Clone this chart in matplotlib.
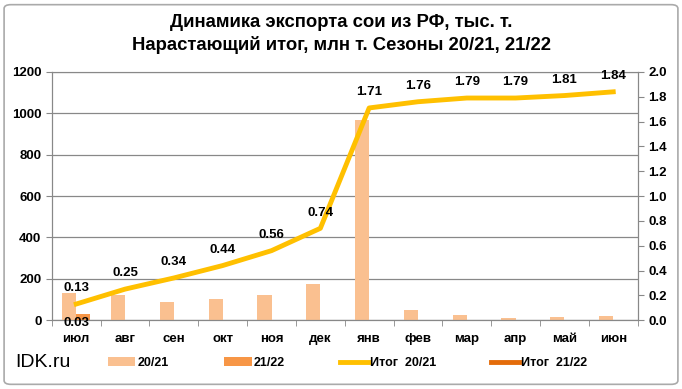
import matplotlib.pyplot as plt
import numpy as np
from matplotlib.patches import FancyBboxPatch

months = ['июл', 'авг', 'сен', 'окт', 'ноя', 'дек', 'янв', 'фев', 'мар', 'апр', 'май', 'июн']
exp_2021 = [130, 120, 88, 100, 120, 175, 970, 50, 25, 10, 15, 20]
exp_2122 = [28, 0, 0, 0, 0, 0, 0, 0, 0, 0, 0, 0]
cum_2021 = [0.13, 0.25, 0.34, 0.44, 0.56, 0.74, 1.71, 1.76, 1.79, 1.79, 1.81, 1.84]
cum_2122 = [0.03] + [np.nan] * 11

plt.rcParams['font.family'] = ['Liberation Sans', 'DejaVu Sans']

fig = plt.figure(figsize=(6.82, 3.89), dpi=100)
ax = fig.add_axes([0.076, 0.177, 0.859, 0.638])
ax2 = ax.twinx()

x = np.arange(len(months))
w = 0.29
b1 = ax.bar(x - w / 2, exp_2021, w, color='#FAC090', label='20/21', zorder=2)
b2 = ax.bar(x + w / 2, exp_2122, w, color='#F79646', label='21/22', zorder=2)

l1, = ax2.plot(x, cum_2021, color='#FFC000', lw=3.5, label='Итог  20/21', zorder=3)
l2, = ax2.plot(x, cum_2122, color='#E46C0A', lw=3.5, label='Итог  21/22', zorder=3)

for xi, v in zip(x, cum_2021):
    ax2.annotate(f'{v:.2f}', (xi, v), xytext=(0, 7), textcoords='offset points',
                 ha='center', va='bottom', fontsize=9.5, fontweight='bold')
ax2.annotate(f'{cum_2122[0]:.2f}', (x[0], cum_2122[0]), xytext=(0, -0.5), textcoords='offset points',
             ha='center', va='top', fontsize=9.5, fontweight='bold')

ax.set_xlim(-0.5, len(months) - 0.5)
ax.set_ylim(0, 1200)
ax.set_yticks(range(0, 1201, 200))
ax2.set_ylim(0, 2.0)
ax2.set_yticks(np.arange(0, 2.01, 0.2))
ax2.set_yticklabels([f'{t:.1f}' for t in np.arange(0, 2.01, 0.2)])

ax.set_xticks(x)
ax.set_xticklabels(months)
ax.set_xticks(np.arange(-0.5, len(months), 1), minor=True)
ax.tick_params(axis='x', which='major', length=0, pad=9)
ax.tick_params(axis='x', which='minor', length=4, color='#888888')

for a in (ax, ax2):
    a.tick_params(axis='y', length=4, color='#888888')
    for s in a.spines.values():
        s.set_color('#888888')
    for lbl in a.get_yticklabels() + a.get_xticklabels():
        lbl.set_fontweight('bold')
        lbl.set_fontsize(9.5)
ax.spines['top'].set_color('#cccccc')
ax.yaxis.grid(True, color='#888888', lw=0.9, zorder=0)
ax.set_axisbelow(True)

fig.suptitle('Динамика экспорта сои из РФ, тыс. т.\nНарастающий итог, млн т. Сезоны 20/21, 21/22',
             y=0.965, fontsize=13.3, fontweight='bold', linespacing=1.4)

fig.text(0.022, 0.067, 'IDK.ru', fontsize=14, va='center')
fig.legend(handles=[b1, b2, l1, l2], loc='center left', bbox_to_anchor=(0.158, 0.067),
           ncol=4, frameon=False, handlelength=2.2, handletextpad=0.2, borderpad=0,
           borderaxespad=0, columnspacing=4.4, prop={'weight': 'bold', 'size': 9})

fig.patches.append(FancyBboxPatch((0.006, 0.012), 0.988, 0.976, boxstyle='round,pad=0,rounding_size=0.01',
                                  transform=fig.transFigure, fill=False, ec='#aaaaaa', lw=1.2))

fig.savefig('out.png', dpi=100)
